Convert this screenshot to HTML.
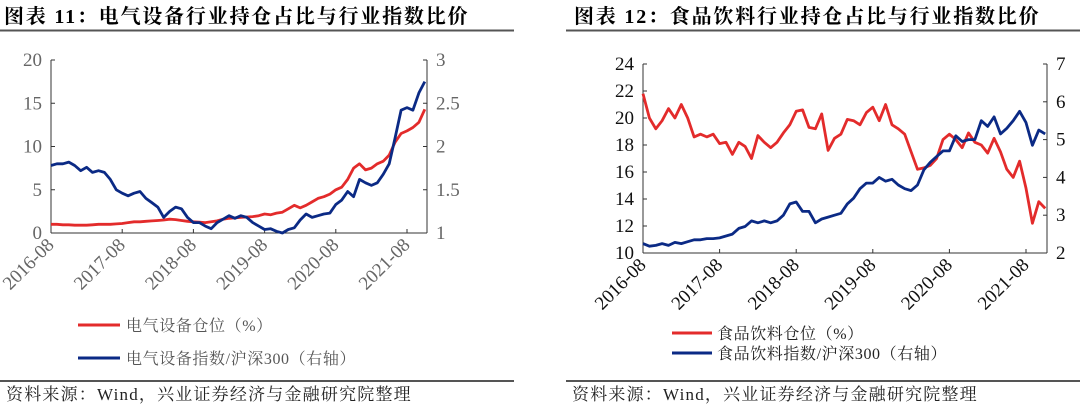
<!DOCTYPE html>
<html><head><meta charset="utf-8"><style>
body{margin:0;background:#fff;width:1080px;height:407px;overflow:hidden}
svg{display:block}
text{font-family:"Liberation Serif","Noto Serif CJK SC",serif}
</style></head><body>
<svg id="s" width="1080" height="407" viewBox="0 0 1080 407">
<text x="4" y="23" font-size="20" letter-spacing="1.8" font-weight="bold" fill="#000">图表 11：电气设备行业持仓占比与行业指数比价</text>
<line x1="0" y1="30.5" x2="514" y2="30.5" stroke="#555" stroke-width="2"/>
<text x="574" y="23" font-size="20" letter-spacing="1.8" font-weight="bold" fill="#000">图表 12：食品饮料行业持仓占比与行业指数比价</text>
<line x1="566" y1="30.5" x2="1080" y2="30.5" stroke="#555" stroke-width="2"/>
<line x1="0" y1="381" x2="514" y2="381" stroke="#555" stroke-width="2"/>
<line x1="566" y1="381" x2="1080" y2="381" stroke="#555" stroke-width="2"/>
<text x="6" y="400" font-size="17" letter-spacing="1.2" fill="#222">资料来源：Wind，兴业证券经济与金融研究院整理</text>
<text x="572" y="400" font-size="17" letter-spacing="1.2" fill="#222">资料来源：Wind，兴业证券经济与金融研究院整理</text>
<line x1="78" y1="325" x2="120" y2="325" stroke="#e32b2b" stroke-width="3"/>
<text x="126" y="331" font-size="16" letter-spacing="0.6" fill="#555">电气设备仓位（%）</text>
<line x1="78" y1="358" x2="120" y2="358" stroke="#0b2a85" stroke-width="3"/>
<text x="126" y="364" font-size="16" letter-spacing="0.6" fill="#555">电气设备指数/沪深300（右轴）</text>
<line x1="672" y1="333" x2="712" y2="333" stroke="#e32b2b" stroke-width="3"/>
<text x="717" y="339" font-size="16" letter-spacing="0.6" fill="#222">食品饮料仓位（%）</text>
<line x1="672" y1="353" x2="712" y2="353" stroke="#0b2a85" stroke-width="3"/>
<text x="717" y="359" font-size="16" letter-spacing="0.6" fill="#222">食品饮料指数/沪深300（右轴）</text>
</svg>
<script>
const xLabels = ["2016-08","2017-08","2018-08","2019-08","2020-08","2021-08"];
const leftTicks1 = [0,5,10,15,20];
const rightTicks1 = [1,1.5,2,2.5,3];
const weight1 = [1.0,1.0,0.95,0.95,0.9,0.9,0.9,0.95,1.0,1.0,1.0,1.05,1.1,
1.2,1.3,1.3,1.35,1.4,1.45,1.5,1.6,1.55,1.45,1.35,1.3,
1.25,1.2,1.3,1.4,1.6,1.7,1.75,1.8,1.85,1.9,2.0,2.2,
2.1,2.3,2.4,2.8,3.2,2.9,3.2,3.6,4.0,4.2,4.5,5.0,
5.3,6.2,7.5,8.0,7.3,7.5,8.0,8.3,9.0,10.5,11.5,11.8,
12.2,12.8,14.3];
const index1 = [1.78,1.80,1.80,1.82,1.78,1.72,1.76,1.70,1.72,1.70,1.62,1.50,1.46,
1.43,1.46,1.48,1.40,1.35,1.30,1.18,1.25,1.30,1.28,1.18,1.12,
1.12,1.08,1.05,1.12,1.16,1.20,1.17,1.20,1.18,1.12,1.08,1.04,
1.05,1.02,1.00,1.04,1.06,1.15,1.22,1.18,1.20,1.22,1.23,1.33,
1.38,1.48,1.42,1.62,1.58,1.55,1.58,1.68,1.80,2.10,2.42,2.45,
2.42,2.62,2.75];
const leftTicks2 = [10,12,14,16,18,20,22,24];
const rightTicks2 = [2,3,4,5,6,7];
const weight2 = [21.8,20.0,19.2,19.8,20.7,20.0,21.0,20.0,18.6,18.8,18.6,18.8,18.1,
18.2,17.3,18.2,17.9,17.0,18.7,18.2,17.8,18.2,18.9,19.5,20.5,
20.6,19.3,19.2,20.3,17.6,18.5,18.8,19.9,19.8,19.5,20.4,20.8,
19.8,21.0,19.5,19.2,18.8,17.5,16.2,16.3,16.5,17.0,18.4,18.8,
18.4,17.8,18.9,18.2,18.0,17.4,18.5,17.5,16.2,15.6,16.8,14.8,
12.2,13.8,13.3];
const index2 = [2.25,2.18,2.2,2.25,2.2,2.28,2.25,2.3,2.35,2.35,2.38,2.38,2.4,
2.45,2.5,2.65,2.7,2.85,2.8,2.85,2.8,2.85,3.0,3.3,3.35,
3.1,3.1,2.8,2.9,2.95,3.0,3.05,3.3,3.45,3.7,3.85,3.85,
4.0,3.9,3.95,3.8,3.7,3.65,3.8,4.2,4.4,4.55,4.7,4.7,
5.1,4.95,5.0,5.0,5.5,5.35,5.6,5.15,5.3,5.5,5.75,5.45,
4.85,5.25,5.15];

const svg = document.getElementById('s');
const NS = 'http://www.w3.org/2000/svg';
function mk(tag, attrs){const e=document.createElementNS(NS,tag);for(const k in attrs)e.setAttribute(k,attrs[k]);svg.appendChild(e);return e;}

function drawChart(cfg){
  const {x0,x1,yTop,yBot,lMin,lMax,rMin,rMax,monthPx,lTicks,rTicks,red,blue,tickColor,id} = cfg;
  const xs = m => x0 + m*monthPx;
  const yl = v => yBot - (v-lMin)/(lMax-lMin)*(yBot-yTop);
  const yr = v => yBot - (v-rMin)/(rMax-rMin)*(yBot-yTop);
  let a;
  a = mk('line',{x1:x0,y1:yTop,x2:x0,y2:yBot,stroke:'#333','stroke-width':1});
  
  
  a = mk('line',{x1:x1,y1:yTop,x2:x1,y2:yBot,stroke:'#333','stroke-width':1});
  
  
  a = mk('line',{x1:x0,y1:yBot,x2:x1,y2:yBot,stroke:'#333','stroke-width':1});
  
  
  lTicks.forEach(v=>{
    const y=yl(v);
    const t=mk('line',{x1:x0,y1:y,x2:x0+4,y2:y,stroke:'#333'});
    
    
    const l=mk('text',{x:x0-9,y:y+6,'font-size':19,'text-anchor':'end',fill:tickColor});
    l.textContent=v;
    
    
  });
  rTicks.forEach(v=>{
    const y=yr(v);
    const t=mk('line',{x1:x1-4,y1:y,x2:x1,y2:y,stroke:'#333'});
    
    
    const l=mk('text',{x:x1+9,y:y+6,'font-size':19,'text-anchor':'start',fill:tickColor});
    l.textContent=v;
    
    
  });
  xLabels.forEach((s,i)=>{
    const x=xs(i*12);
    const t=mk('line',{x1:x,y1:yBot,x2:x,y2:yBot-4,stroke:'#333'});
    
    
    const l=mk('text',{x:x+4,y:yBot+13,'font-size':19,'text-anchor':'end',fill:tickColor,transform:`rotate(-45 ${x+4} ${yBot+13})`});
    l.textContent=s;
    
    
  });
  const pr = red.map((v,i)=>xs(i).toFixed(1)+','+yl(v).toFixed(1)).join(' ');
  const r = mk('polyline',{points:pr,fill:'none',stroke:'#e32b2b','stroke-width':2.8,'stroke-linejoin':'round'});
  
  
  const pb = blue.map((v,i)=>xs(i).toFixed(1)+','+yr(v).toFixed(1)).join(' ');
  const b = mk('polyline',{points:pb,fill:'none',stroke:'#0b2a85','stroke-width':2.8,'stroke-linejoin':'round'});
  
  
}
drawChart({id:'chart-11',x0:51,x1:427,yTop:60,yBot:233,lMin:0,lMax:20,rMin:1,rMax:3,monthPx:71.2/12,lTicks:leftTicks1,rTicks:rightTicks1,red:weight1,blue:index1,tickColor:'#666'});
drawChart({id:'chart-12',x0:643,x1:1047,yTop:64,yBot:253,lMin:10,lMax:24,rMin:2,rMax:7,monthPx:76.6/12,lTicks:leftTicks2,rTicks:rightTicks2,red:weight2,blue:index2,tickColor:'#111'});
</script>
</body></html>
